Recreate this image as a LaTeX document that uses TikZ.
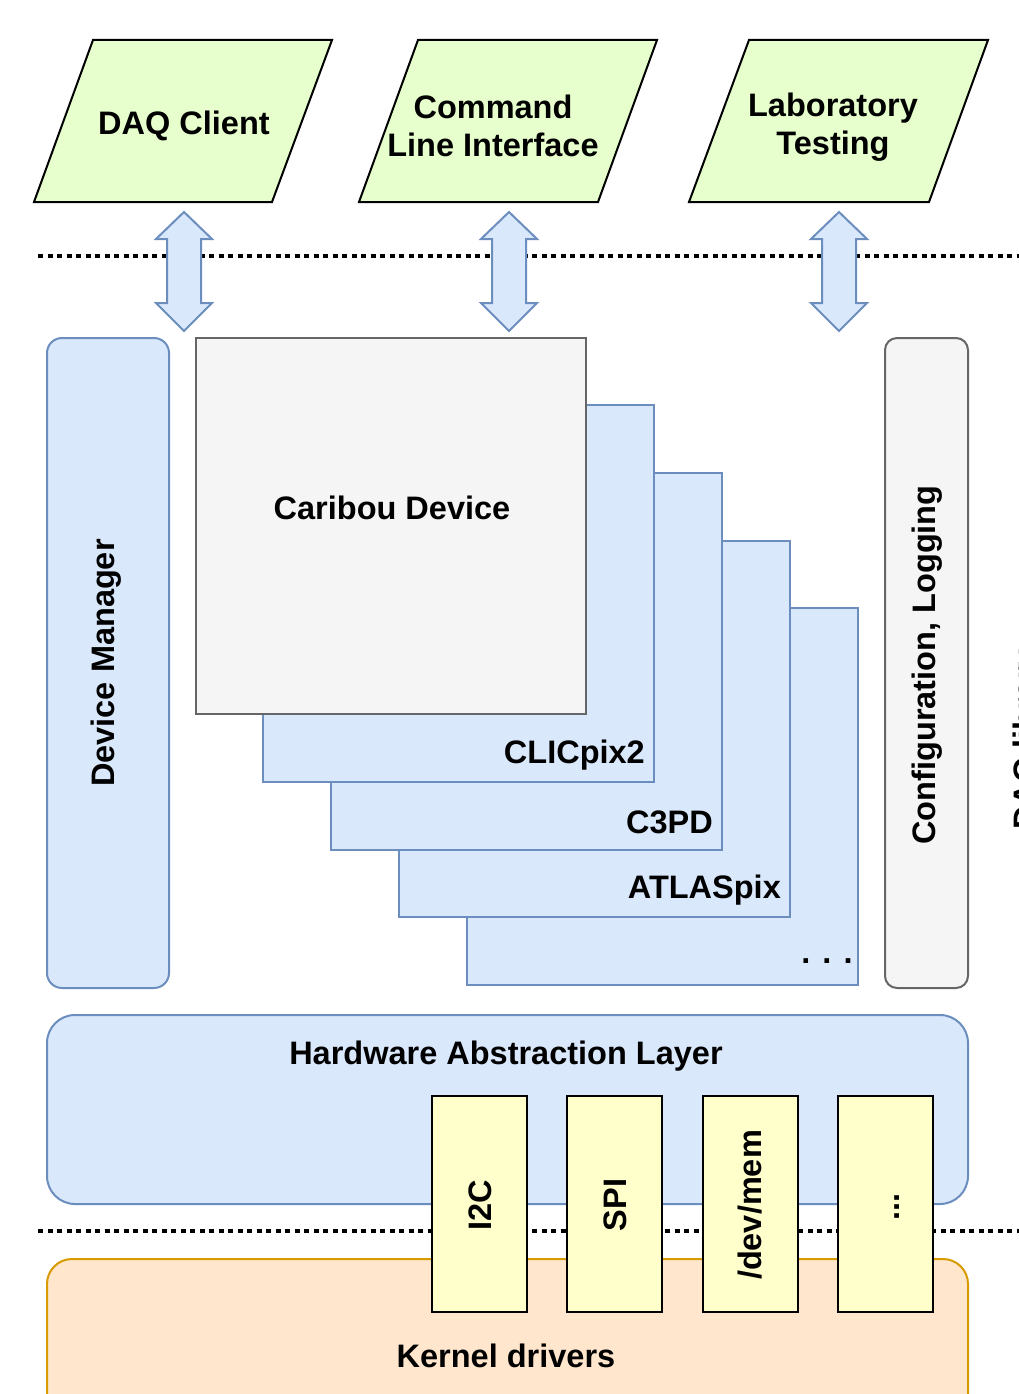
\documentclass[tikz,border=0pt]{standalone}
\usepackage{fontspec}
\setmainfont{Liberation Sans}
\begin{document}
\begin{tikzpicture}[x=1pt,y=-1pt,
  lbl/.style={font=\fontsize{32.5}{38}\selectfont\bfseries, align=center, inner sep=0pt},
  para/.style={draw=black, line width=2pt, fill=green0},
  bluebox/.style={draw=blue0, line width=2pt, fill=blue1},
  greybox/.style={draw=grey0, line width=2pt, fill=grey1},
  yelbox/.style={draw=black, line width=2.5pt, fill=yel1},
  dotline/.style={line width=4.5pt, dash pattern=on 5pt off 4.5pt},
  dblarrow/.style={draw=blue0, line width=2pt, fill=blue1, line join=miter}
]
\definecolor{green0}{HTML}{E6FFCC}
\definecolor{blue0}{HTML}{6C8EBF}
\definecolor{blue1}{HTML}{DAE8FC}
\definecolor{grey0}{HTML}{666666}
\definecolor{grey1}{HTML}{F5F5F5}
\definecolor{yel1}{HTML}{FFFFCC}
\definecolor{orange0}{HTML}{D79B00}
\definecolor{orange1}{HTML}{FFE6CC}
\useasboundingbox (0,0) rectangle (1018,1394);
\fill[white] (0,0) rectangle (1018,1394);

% dotted separators
\coordinate (d1a) at (38,256); \coordinate (d1b) at (1022,256);
\coordinate (d2a) at (38,1231); \coordinate (d2b) at (1022,1231);
\draw[dotline] (d1a) -- (d1b);

% top parallelograms
\draw[para] (93,40) -- (332,40) -- (272,202) -- (34,202) -- cycle;
\node[lbl] (daq) at (184,126) {DAQ Client};
\draw[para] (418,40) -- (657,40) -- (598,202) -- (359,202) -- cycle;
\node[lbl] (cli) at (493,126) {Command\\Line Interface};
\draw[para] (749,40) -- (988,40) -- (929,202) -- (689,202) -- cycle;
\node[lbl] (lab) at (833,127) {Laboratory\\Testing};

% double arrows
\foreach \cx in {184,509,839}{
  \draw[dblarrow] (\cx,212) -- (\cx+28,239) -- (\cx+17,239) -- (\cx+17,303) -- (\cx+28,303)
    -- (\cx,331) -- (\cx-28,303) -- (\cx-17,303) -- (\cx-17,239) -- (\cx-28,239) -- cycle;
}

% device manager
\draw[bluebox, rounded corners=15pt] (47,338) rectangle (169,988);
\node[lbl, rotate=90] (dm) at (106,663) {Device Manager};

% config logging
\draw[greybox, rounded corners=12pt] (885,338) rectangle (968,988);
\node[lbl, rotate=90] (cfg) at (927,665) {Configuration, Logging};

% device stack
\draw[bluebox] (467,608) rectangle (858,985);
\node[lbl] (dots) at (827,961) {. . .};
\draw[bluebox] (399,541) rectangle (790,917);
\node[lbl, anchor=east] (atl) at (781,890) {ATLASpix};
\draw[bluebox] (331,473) rectangle (722,850);
\node[lbl, anchor=east] (c3) at (713,822) {C3PD};
\draw[bluebox] (263,405) rectangle (654,782);
\node[lbl, anchor=east] (clic) at (645,755) {CLICpix2};
\draw[greybox] (196,338) rectangle (586,714);
\node[lbl] (cd) at (392,508) {Caribou Device};

% HAL
\draw[bluebox, rounded corners=28pt] (47,1015) rectangle (968,1204);
\node[lbl] (hal) at (506,1056) {Hardware Abstraction Layer};

\draw[dotline] (d2a) -- (d2b);

% kernel drivers
\draw[draw=orange0, line width=2pt, fill=orange1, rounded corners=25pt] (47,1420) -- (47,1259) -- (968,1259) -- (968,1420);
\node[lbl] (kd) at (506,1356) {Kernel drivers};

% interface boxes
\draw[yelbox] (432,1096) rectangle (527,1312);
\node[lbl, rotate=90] (i2c) at (480,1205) {I2C};
\draw[yelbox] (567,1096) rectangle (662,1312);
\node[lbl, rotate=90] (spi) at (615,1205) {SPI};
\draw[yelbox] (703,1096) rectangle (798,1312);
\node[lbl, rotate=90] (mem) at (750,1205) {/dev/mem};
\draw[yelbox] (838,1096) rectangle (933,1312);
\node[lbl, rotate=90] (etc) at (897,1207) {...};

% clipped side label (cut by the picture's right edge, as in the reference)
\node[lbl, rotate=90, anchor=base west] (daqlib) at (1036,830) {DAQ library};
\end{tikzpicture}
\end{document}
